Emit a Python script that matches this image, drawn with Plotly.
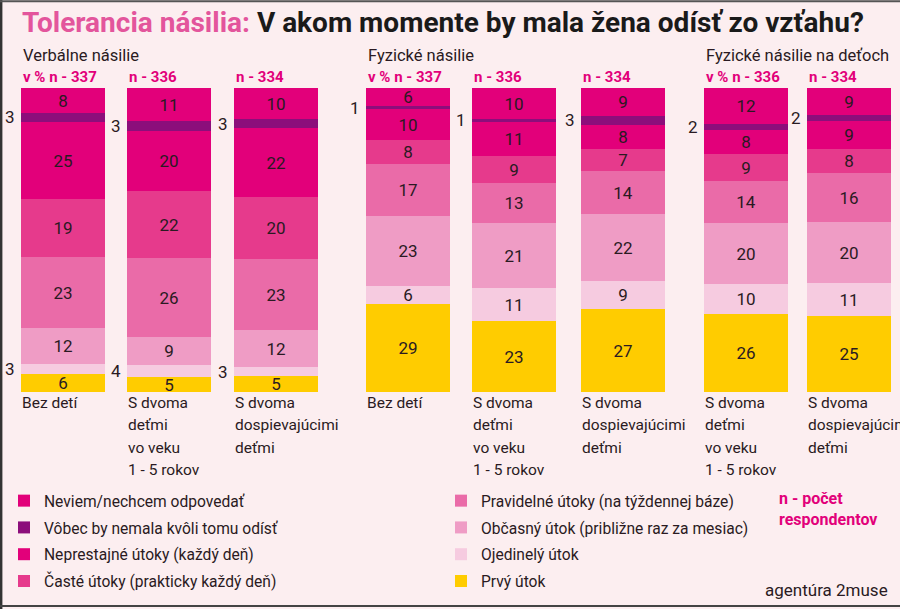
import plotly.graph_objects as go

# ---------------- data ----------------
categories = [
    ["Bez detí"],
    ["S dvoma", "deťmi", "vo veku", "1 - 5 rokov"],
    ["S dvoma", "dospievajúcimi", "deťmi"],
    ["Bez detí"],
    ["S dvoma", "deťmi", "vo veku", "1 - 5 rokov"],
    ["S dvoma", "dospievajúcimi", "deťmi"],
    ["S dvoma", "deťmi", "vo veku", "1 - 5 rokov"],
    ["S dvoma", "dospievajúcimi", "deťmi"],
]
n_labels = ["v % n - 337", "n - 336", "n - 334",
            "v % n - 337", "n - 336", "n - 334",
            "v % n - 336", "n - 334"]
group_titles = ["Verbálne násilie", "Fyzické násilie", "Fyzické násilie na deťoch"]
group_first_bar = [0, 3, 6]

# series, top of the stack first
series_names = [
    "Neviem/nechcem odpovedať",
    "Vôbec by nemala kvôli tomu odísť",
    "Neprestajné útoky (každý deň)",
    "Časté útoky (prakticky každý deň)",
    "Pravidelné útoky (na týždennej báze)",
    "Občasný útok (približne raz za mesiac)",
    "Ojedinelý útok",
    "Prvý útok",
]
neviem       = [8, 11, 10, 6, 10, 9, 12, 9]
vobec        = [3, 3, 3, 1, 1, 3, 2, 2]
neprestajne  = [25, 20, 22, 10, 11, 8, 8, 9]
caste        = [19, 22, 20, 8, 9, 7, 9, 8]
pravidelne   = [23, 26, 23, 17, 13, 14, 14, 16]
obcasny      = [12, 9, 12, 23, 21, 22, 20, 20]
ojedinely    = [3, 4, 3, 6, 11, 9, 10, 11]
prvy         = [6, 5, 5, 29, 23, 27, 26, 25]
series_values = [neviem, vobec, neprestajne, caste, pravidelne, obcasny, ojedinely, prvy]

# ---------------- styling / layout ----------------
W, H = 900, 609
colors = ["#E2007A", "#8C0E7B", "#E2007A", "#E63A8C",
          "#EA6BA8", "#EF9CC5", "#F6CBE0", "#FFCC00"]
bar_x = [63, 169, 275.5, 408, 514, 622.5, 745.5, 849]
bar_w = 84
bar_top_px, bar_bot_px = 88, 392
# label outside the bar (left) for these series indexes / bars
outside = {1: set(range(8)), 6: {0, 1, 2}}

FONT = "Roboto, Noto Sans, DejaVu Sans, sans-serif"
DARK = "#2a1a22"
PINK = "#E2007A"
BG = "#FCEEF0"

def py(px):
    return 1 - px / H

fig = go.Figure()

# add from the bottom of the stack upwards
for si in reversed(range(len(series_names))):
    vals = series_values[si]
    texts = []
    for bi, v in enumerate(vals):
        if si in outside and bi in outside[si]:
            texts.append("")
        else:
            texts.append(str(v))
    fig.add_trace(go.Bar(
        x=bar_x, y=vals, width=bar_w, name=series_names[si],
        marker=dict(color=colors[si], line=dict(width=0)),
        text=texts, textposition="inside", insidetextanchor="middle",
        textangle=0, constraintext="none",
        textfont=dict(family=FONT, size=17, color=DARK),
        legend="legend" if si < 4 else "legend2",
        legendgroup=series_names[si],
        legendrank=si + 1,
        hoverinfo="skip",
    ))

annotations = []
# outside labels for thin segments
for si, bars in outside.items():
    for bi in sorted(bars):
        col = [s[bi] for s in series_values]
        total = sum(col)
        below = sum(col[si + 1:])
        ymid = (below + col[si] / 2) / total * 100
        annotations.append(dict(
            x=bar_x[bi] - bar_w / 2 - 4, y=ymid, xref="x", yref="y",
            text=str(col[si]), showarrow=False, xanchor="right", yanchor="middle",
            font=dict(family=FONT, size=17, color=DARK)))

# n labels above bars
for bi, lab in enumerate(n_labels):
    annotations.append(dict(
        x=(bar_x[bi] - bar_w / 2) / W, y=py(77), xref="paper", yref="paper",
        text="<b>" + lab + "</b>", showarrow=False, xanchor="left", yanchor="middle",
        font=dict(family=FONT, size=15, color=PINK)))

# category labels below bars (one annotation per line for the looser leading)
for bi, lines in enumerate(categories):
    for li, line in enumerate(lines):
        annotations.append(dict(
            x=(bar_x[bi] - bar_w / 2 - 1) / W, y=py(403 + 22.3 * li),
            xref="paper", yref="paper",
            text=line, showarrow=False, xanchor="left", yanchor="middle", align="left",
            font=dict(family=FONT, size=15.5, color=DARK)))

# group titles
for gi, g in enumerate(group_titles):
    b = group_first_bar[gi]
    annotations.append(dict(
        x=(bar_x[b] - bar_w / 2) / W, y=py(55), xref="paper", yref="paper",
        text=g, showarrow=False, xanchor="left", yanchor="middle",
        font=dict(family=FONT, size=16.5, color=DARK)))

# title
annotations.append(dict(
    x=20 / W, y=py(23), xref="paper", yref="paper", xanchor="left", yanchor="middle",
    showarrow=False,
    text="<b><span style='color:#E3559C'>Tolerancia násilia:</span> V akom momente by mala žena odísť zo vzťahu?</b>",
    font=dict(family=FONT, size=28, color="#1a1a1a")))

# notes
annotations.append(dict(
    x=777 / W, y=py(487), xref="paper", yref="paper", xanchor="left", yanchor="top",
    showarrow=False, align="left", text="<b>n - počet<br>respondentov</b>",
    font=dict(family=FONT, size=16, color=PINK)))
annotations.append(dict(
    x=890 / W, y=py(590), xref="paper", yref="paper", xanchor="right", yanchor="middle",
    showarrow=False, text="agentúra 2muse",
    font=dict(family=FONT, size=17, color=DARK)))

shapes = [
    dict(type="line", xref="paper", yref="paper", x0=0.001, x1=0.001, y0=0, y1=1,
         line=dict(color="#333333", width=3)),
    dict(type="line", xref="paper", yref="paper", x0=0, x1=1, y0=0.998, y1=0.998,
         line=dict(color="#555555", width=2)),
    dict(type="line", xref="paper", yref="paper", x0=0, x1=1, y0=py(606), y1=py(606),
         line=dict(color="#444444", width=2)),
]

legend_common = dict(
    orientation="v", traceorder="grouped", tracegroupgap=3.5,
    bgcolor="rgba(0,0,0,0)", font=dict(family=FONT, size=15.6, color=DARK),
    yanchor="top", xanchor="left", itemclick=False, itemdoubleclick=False,
)

fig.update_layout(
    width=W, height=H, margin=dict(l=0, r=0, t=0, b=0),
    paper_bgcolor=BG, plot_bgcolor=BG,
    barmode="stack", barnorm="percent", bargap=0,
    uniformtext=dict(minsize=17, mode="show"),
    xaxis=dict(range=[0, W], visible=False, fixedrange=True),
    yaxis=dict(range=[0, 100], domain=[py(bar_bot_px), py(bar_top_px)],
               visible=False, fixedrange=True),
    showlegend=True,
    legend=dict(x=4 / W, y=py(484), **legend_common),
    legend2=dict(x=441 / W, y=py(484), **legend_common),
    annotations=annotations, shapes=shapes,
)

fig.write_html(
    "out.html",
    config={"displayModeBar": False},
    post_script="document.body.style.margin='0';document.body.style.padding='0';document.body.style.overflow='hidden';",
)
